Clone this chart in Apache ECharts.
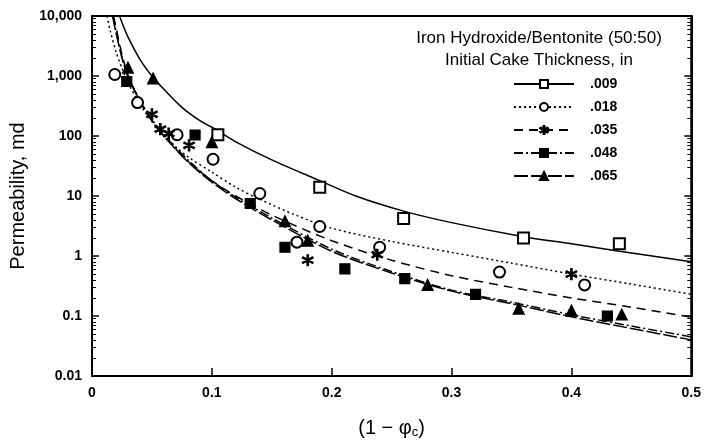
<!DOCTYPE html>
<html>
<head>
<meta charset="utf-8">
<script src="https://cdn.jsdelivr.net/npm/echarts@6/dist/echarts.min.js"></script>
<style>
  html, body { margin: 0; padding: 0; background: #fff; }
  #chart { width: 704px; height: 444px; }
</style>
</head>
<body>
<div id="chart"></div>
<script>
// ---- tick labels
var xTickLabels = ['0', '0.1', '0.2', '0.3', '0.4', '0.5'];
var yTickLabels = ['0.01', '0.1', '1', '10', '100', '1,000', '10,000'];
var seriesNames = ['.009', '.018', '.035', '.048', '.065'];

// ---- fitted curves [1 - phi_c, permeability md]
var curve009 = [[0.023, 10000], [0.025, 7800], [0.03, 4500], [0.04, 1900], [0.05, 1000], [0.06, 600], [0.075, 300],
    [0.09, 180], [0.1, 140], [0.12, 80], [0.15, 40], [0.19, 18], [0.22, 10], [0.26, 5.6], [0.3, 3.6], [0.36, 2.1],
    [0.4, 1.6], [0.44, 1.2], [0.5, 0.8]];
var curve018 = [[0.0125, 10000], [0.015, 5900], [0.02, 2550], [0.025, 1350], [0.03, 780], [0.04, 335], [0.05, 175],
    [0.06, 105], [0.07, 66], [0.08, 45], [0.1, 25], [0.12, 14], [0.14, 8.8], [0.17, 4.8], [0.2, 2.9], [0.25, 1.75],
    [0.3, 1.15], [0.35, 0.76], [0.4, 0.5], [0.45, 0.34], [0.5, 0.23]];
var curve035 = [[0.018, 10000], [0.02, 6500], [0.025, 2300], [0.03, 1050], [0.04, 380], [0.05, 180], [0.06, 100],
    [0.08, 38], [0.1, 18], [0.12, 10], [0.15, 4.8], [0.2, 1.8], [0.25, 0.85], [0.3, 0.47], [0.35, 0.3], [0.4, 0.2],
    [0.45, 0.14], [0.5, 0.096]];
var curve048 = [[0.0175, 10000], [0.02, 5600], [0.025, 2100], [0.03, 1000], [0.04, 400], [0.05, 190], [0.06, 105],
    [0.08, 40], [0.1, 18], [0.12, 9.5], [0.15, 4.3], [0.2, 1.3], [0.25, 0.55], [0.3, 0.27], [0.35, 0.17], [0.4, 0.105],
    [0.45, 0.068], [0.5, 0.045]];
var curve065 = [[0.0172, 10000], [0.02, 5300], [0.025, 2000], [0.03, 960], [0.04, 385], [0.05, 182], [0.06, 100],
    [0.08, 37], [0.1, 17], [0.12, 9], [0.15, 4.0], [0.2, 1.2], [0.25, 0.52], [0.3, 0.26], [0.35, 0.16], [0.4, 0.097],
    [0.45, 0.062], [0.5, 0.04]];

// ---- measured points
var points009 = [[0.105, 105], [0.19, 14], [0.26, 4.2], [0.36, 2.0], [0.44, 1.6]];
var points018 = [[0.019, 1060], [0.038, 360], [0.071, 105], [0.101, 41], [0.14, 11], [0.171, 1.7], [0.19, 3.1],
    [0.24, 1.4], [0.34, 0.54], [0.411, 0.33]];
var points035 = [[0.05, 230], [0.057, 130], [0.064, 110], [0.081, 70], [0.18, 0.85], [0.238, 1.05], [0.4, 0.5]];
var points048 = [[0.029, 810], [0.086, 104], [0.132, 7.5], [0.161, 1.4], [0.211, 0.61], [0.261, 0.42], [0.32, 0.23],
    [0.43, 0.1]];
var points065 = [[0.03, 1380], [0.051, 910], [0.1, 79], [0.161, 3.8], [0.18, 1.8], [0.28, 0.33], [0.356, 0.133],
    [0.40, 0.123], [0.442, 0.106]];

var starPath = 'path://M-1.2,-10 L1.2,-10 L1.2,10 L-1.2,10 Z ' +
    'M-9.26,-3.96 L-8.06,-6.04 L9.26,3.96 L8.06,6.04 Z ' +
    'M-8.06,6.04 L-9.26,3.96 L8.06,-6.04 L9.26,-3.96 Z';

var fontMain = 'Liberation Sans, Arial, Helvetica, sans-serif';

function curveSeries(name, data, symbol, dash) {
    return {
        name: name,
        type: 'line',
        data: data,
        smooth: 0.3,
        symbol: symbol,
        symbolSize: 10,
        showSymbol: false,
        silent: true,
        color: '#000',
        lineStyle: { color: '#000', width: 1.5, type: dash },
        itemStyle: { color: '#000', borderColor: '#000', borderWidth: 1.2, opacity: 1 },
        z: 2
    };
}

function pointSeries(name, data, symbol, size) {
    return {
        name: name,
        type: 'scatter',
        data: data,
        symbol: symbol,
        symbolSize: size,
        silent: true,
        itemStyle: { color: '#000', borderColor: '#000', borderWidth: 1.2, opacity: 1 },
        z: 3
    };
}

var chart = echarts.init(document.getElementById('chart'), null, { renderer: 'canvas' });

var option = {
    animation: false,
    backgroundColor: '#fff',
    grid: {
        left: 92, right: 12, top: 16, bottom: 65,
        show: true, borderColor: '#000', borderWidth: 2
    },
    legend: {
        data: seriesNames,
        orient: 'vertical',
        left: 508,
        top: 72,
        itemWidth: 60,
        itemHeight: 10,
        itemGap: 9,
        selectedMode: false,
        textStyle: {
            color: '#000', fontFamily: fontMain, fontSize: 14, fontWeight: 'bold',
            padding: [0, 0, 0, 11]
        }
    },
    graphic: [
        {
            type: 'text',
            style: {
                text: 'Iron Hydroxide/Bentonite (50:50)', x: 539, y: 38,
                align: 'center', verticalAlign: 'middle',
                font: '17px ' + fontMain, fill: '#000'
            }
        },
        {
            type: 'text',
            style: {
                text: 'Initial Cake Thickness, in', x: 539, y: 60,
                align: 'center', verticalAlign: 'middle',
                font: '17px ' + fontMain, fill: '#000'
            }
        }
    ],
    xAxis: {
        type: 'value',
        min: 0,
        max: 0.5,
        interval: 0.1,
        name: '{a|(1 \u2212 \u03c6}{b|c}{a|)}',
        nameLocation: 'middle',
        nameGap: 42,
        nameTextStyle: {
            rich: {
                a: { fontFamily: fontMain, fontSize: 20, color: '#000' },
                b: { fontFamily: fontMain, fontSize: 13, color: '#000', verticalAlign: 'bottom', padding: [8, 0, 0, 0] }
            }
        },
        axisLine: { show: true, lineStyle: { color: '#000', width: 2 } },
        axisTick: { show: true, inside: true, length: 8, lineStyle: { color: '#000', width: 1.5 } },
        splitLine: { show: false },
        axisLabel: {
            color: '#000', fontFamily: fontMain, fontSize: 14, fontWeight: 'bold', margin: 10,
            formatter: function (val) {
                return xTickLabels[Math.round(val * 10)];
            }
        }
    },
    yAxis: [
        {
            type: 'log',
            logBase: 10,
            min: 0.01,
            max: 10000,
            name: 'Permeability, md',
            nameLocation: 'middle',
            nameGap: 56,
            nameTextStyle: { fontFamily: fontMain, fontSize: 20, color: '#000' },
            axisLine: { show: true, lineStyle: { color: '#000', width: 2 } },
            axisTick: { show: true, inside: true, length: 7, lineStyle: { color: '#000', width: 1.5 } },
            minorTick: { show: true, splitNumber: 9, length: 4, lineStyle: { color: '#000', width: 1 } },
            splitLine: { show: false },
            axisLabel: {
                color: '#000', fontFamily: fontMain, fontSize: 14, fontWeight: 'bold', margin: 10,
                formatter: function (val) {
                    return yTickLabels[Math.round(Math.log10(val)) + 2];
                }
            }
        },
        {
            type: 'log',
            logBase: 10,
            min: 0.01,
            max: 10000,
            position: 'right',
            axisLine: { show: true, lineStyle: { color: '#000', width: 2 } },
            axisTick: { show: true, inside: true, length: 7, lineStyle: { color: '#000', width: 1.5 } },
            minorTick: { show: true, splitNumber: 9, length: 4, lineStyle: { color: '#000', width: 1 } },
            splitLine: { show: false },
            axisLabel: { show: false }
        }
    ],
    series: [
        curveSeries('.009', curve009, 'emptyRect', 'solid'),
        curveSeries('.018', curve018, 'emptyCircle', [2, 3]),
        curveSeries('.035', curve035, starPath, [9, 6]),
        curveSeries('.048', curve048, 'rect', [9, 3, 2, 3]),
        curveSeries('.065', curve065, 'triangle', [14, 3]),
        pointSeries('.009', points009, 'emptyRect', 11),
        pointSeries('.018', points018, 'emptyCircle', 11),
        pointSeries('.035', points035, starPath, 11),
        pointSeries('.048', points048, 'rect', 10),
        pointSeries('.065', points065, 'triangle', 11)
    ]
};

chart.setOption(option);
</script>
</body>
</html>
